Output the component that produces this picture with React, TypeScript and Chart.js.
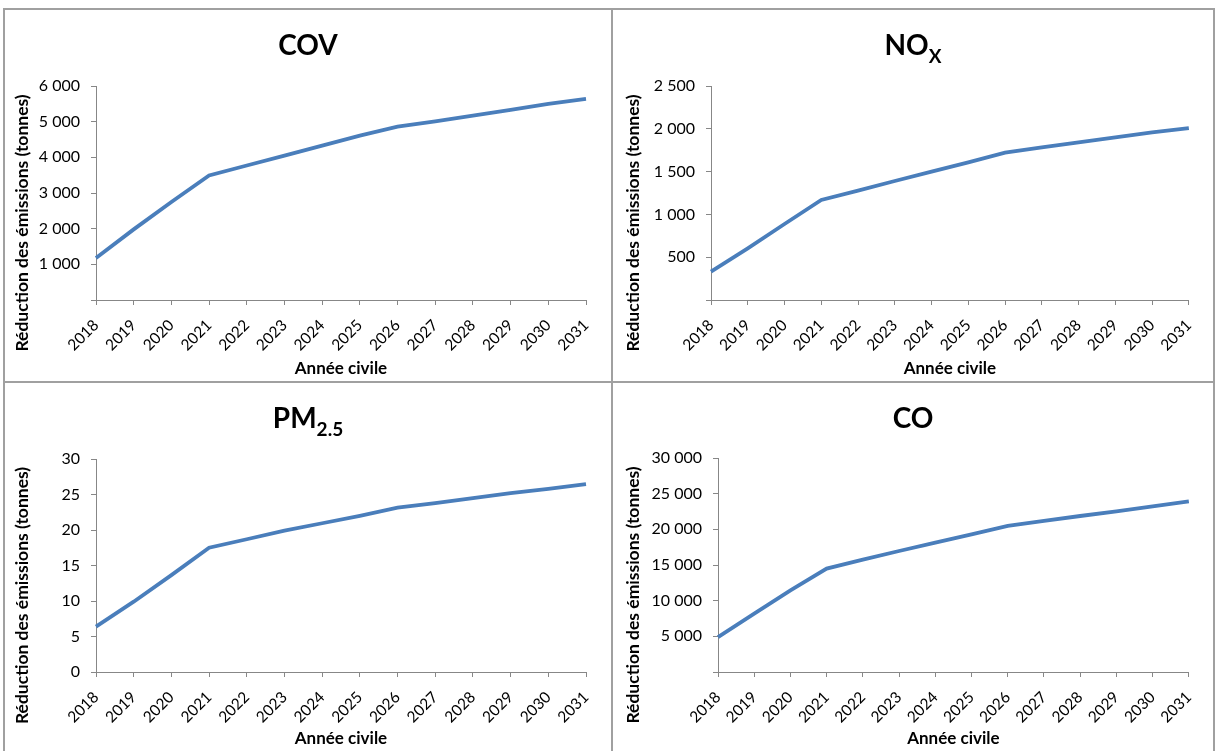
import React, { useEffect, useRef } from 'react';
import { Chart, registerables } from 'chart.js';

Chart.register(...registerables);

// ---------- data ----------
const years = ['2018', '2019', '2020', '2021', '2022', '2023', '2024', '2025', '2026', '2027', '2028', '2029', '2030', '2031'];

const covValues = [1180, 1980, 2750, 3490, 3770, 4050, 4330, 4610, 4860, 5010, 5170, 5330, 5500, 5640];
const noxValues = [331, 604, 888, 1168, 1277, 1390, 1499, 1608, 1721, 1783, 1842, 1900, 1959, 2009];
const pm25Values = [6.4, 9.9, 13.65, 17.5, 18.7, 19.9, 20.95, 22.0, 23.15, 23.8, 24.5, 25.2, 25.8, 26.45];
const coValues = [4900, 8180, 11450, 14490, 15750, 16960, 18130, 19300, 20470, 21170, 21870, 22520, 23230, 23930];

const covTitle: [string, boolean][] = [['COV', false]];
const noxTitle: [string, boolean][] = [['NO', false], ['X', true]];
const pm25Title: [string, boolean][] = [['PM', false], ['2.5', true]];
const coTitle: [string, boolean][] = [['CO', false]];

const xAxisTitle = 'Année civile';
const yAxisTitle = 'Réduction des émissions (tonnes)';

const covMax = 6000, covStep = 1000;
const noxMax = 2500, noxStep = 500;
const pm25Max = 30, pm25Step = 5;
const coMax = 30000, coStep = 5000;

// ---------- styles ----------
const FONT = 'Lato';
const LINE_COLOR = '#4a7ebb';
const AXIS_COLOR = '#878787';
const BORDER_COLOR = '#a0a0a0';

const fmt = (v: number, showZero: boolean) => {
  if (v === 0 && !showZero) return '';
  const s = Math.round(v).toString();
  return s.replace(/\B(?=(\d{3})+(?!\d))/g, ' ');
};

const titlePlugin = {
  id: 'panelTitle',
  afterDraw(chart: any, _args: any, opts: any) {
    const ctx = chart.ctx as CanvasRenderingContext2D;
    ctx.save();
    const mainFont = `bold ${opts.size}px ${FONT}`;
    const subFont = `bold ${opts.subSize}px ${FONT}`;
    let total = 0;
    for (const [t, isSub] of opts.parts as [string, boolean][]) {
      ctx.font = isSub ? subFont : mainFont;
      total += ctx.measureText(t).width;
    }
    let x = chart.width / 2 - total / 2;
    ctx.fillStyle = '#000';
    ctx.textBaseline = 'alphabetic';
    ctx.textAlign = 'left';
    for (const [t, isSub] of opts.parts as [string, boolean][]) {
      ctx.font = isSub ? subFont : mainFont;
      ctx.fillText(t, x, isSub ? opts.baseline + opts.subShift : opts.baseline);
      x += ctx.measureText(t).width;
    }
    // vertical axis title
    const ca = chart.chartArea;
    const cy = (ca.top + ca.bottom) / 2 + opts.yTitleShift;
    ctx.translate(opts.yTitleX, cy);
    ctx.rotate(-Math.PI / 2);
    ctx.font = `bold 17.5px ${FONT}`;
    ctx.textAlign = 'center';
    ctx.textBaseline = 'middle';
    ctx.fillText(opts.yTitle, 0, 0);
    ctx.restore();
  },
};

type PanelProps = {
  left: number; top: number; width: number; height: number;
  yWidth: number; xHeight: number; padTop: number; padRight: number;
  values: number[]; max: number; step: number; showZero: boolean;
  title: [string, boolean][];
  yTitleX: number;
};

function Panel(p: PanelProps) {
  const ref = useRef<HTMLCanvasElement>(null);
  useEffect(() => {
    if (!ref.current) return;
    const chart = new Chart(ref.current, {
      type: 'line',
      data: {
        labels: years,
        datasets: [{
          data: p.values,
          borderColor: LINE_COLOR,
          borderWidth: 3.8,
          pointRadius: 0,
          tension: 0,
          fill: false,
        }],
      },
      options: {
        animation: false,
        responsive: false,
        maintainAspectRatio: false,
        devicePixelRatio: 1,
        layout: { padding: { top: p.padTop, right: p.padRight, left: 0, bottom: 0 } },
        plugins: {
          legend: { display: false },
          tooltip: { enabled: false },
          title: { display: false },
          panelTitle: {
            parts: p.title, size: 28, subSize: 19, baseline: 45, subShift: 8,
            yTitle: yAxisTitle, yTitleX: p.yTitleX, yTitleShift: 30,
          },
        } as any,
        scales: {
          x: {
            offset: false,
            afterFit: (s: any) => { s.height = p.xHeight; },
            grid: { display: true, drawOnChartArea: false, drawTicks: true, tickLength: 5, color: AXIS_COLOR },
            border: { display: true, color: AXIS_COLOR, width: 1 },
            ticks: {
              autoSkip: false, maxRotation: 45, minRotation: 45, padding: 11,
              color: '#000', font: { family: FONT, size: 15.5 },
            },
            title: {
              display: true, text: xAxisTitle, color: '#000',
              font: { family: FONT, size: 17, weight: 'bold' },
              padding: { top: 0, bottom: 2 },
            },
          },
          y: {
            min: 0, max: p.max,
            afterFit: (s: any) => { s.width = p.yWidth; },
            grid: { display: true, drawOnChartArea: false, drawTicks: true, tickLength: 5, color: AXIS_COLOR },
            border: { display: true, color: AXIS_COLOR, width: 1 },
            ticks: {
              stepSize: p.step, padding: 11, color: '#000',
              font: { family: FONT, size: 16 },
              callback: (v: any) => fmt(Number(v), p.showZero),
            },
          },
        },
      },
      plugins: [titlePlugin],
    });
    return () => chart.destroy();
  }, []);
  return (
    <canvas
      ref={ref}
      width={p.width}
      height={p.height}
      style={{ position: 'absolute', left: p.left, top: p.top, width: p.width, height: p.height }}
    />
  );
}

export default function App() {
  const line = (style: React.CSSProperties) => (
    <div style={{ position: 'absolute', background: BORDER_COLOR, ...style }} />
  );
  return (
    <div style={{ position: 'fixed', left: 0, top: 0, width: 1215, height: 751, background: '#fff', overflow: 'hidden' }}>
      {line({ left: 3, top: 8, width: 1212, height: 2 })}
      {line({ left: 3, top: 8, width: 2, height: 743 })}
      {line({ left: 1213, top: 8, width: 2, height: 743 })}
      {line({ left: 611, top: 8, width: 2, height: 743 })}
      {line({ left: 3, top: 381, width: 1212, height: 2 })}
      <Panel left={5} top={10} width={606} height={371} yWidth={91} xHeight={81} padTop={76} padRight={25}
        values={covValues} max={covMax} step={covStep} showZero={false} title={covTitle} yTitleX={17} />
      <Panel left={613} top={10} width={600} height={371} yWidth={98} xHeight={81} padTop={76} padRight={22}
        values={noxValues} max={noxMax} step={noxStep} showZero={false} title={noxTitle} yTitleX={20} />
      <Panel left={5} top={383} width={606} height={368} yWidth={91} xHeight={79} padTop={76} padRight={25}
        values={pm25Values} max={pm25Max} step={pm25Step} showZero={true} title={pm25Title} yTitleX={17} />
      <Panel left={613} top={383} width={600} height={368} yWidth={105} xHeight={79} padTop={75} padRight={22}
        values={coValues} max={coMax} step={coStep} showZero={false} title={coTitle} yTitleX={20} />
    </div>
  );
}
